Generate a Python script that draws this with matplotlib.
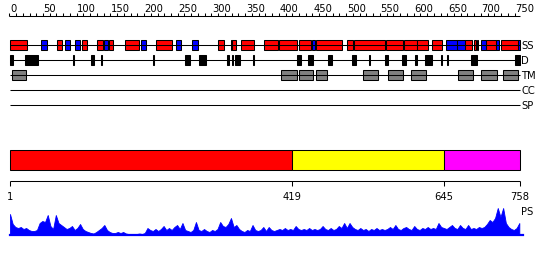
import numpy as np
import matplotlib.pyplot as plt
from matplotlib.patches import Rectangle

n_res = 758
ruler_ticks = list(range(0, 751, 10))
ruler_labels = list(range(0, 751, 50))

# secondary structure: helix (red), strand (blue)
ss_helix = [(1, 26), (71, 78), (108, 115), (130, 139), (148, 154), (172, 192),
            (218, 241), (310, 319), (329, 331), (331, 336), (344, 363), (378, 399),
            (400, 427), (430, 448), (455, 494), (501, 510), (512, 558), (559, 584),
            (586, 605), (605, 621), (627, 642), (677, 687), (690, 692), (694, 696),
            (708, 722), (730, 755)]
ss_strand = [(47, 56), (83, 90), (97, 105), (141, 146), (195, 203), (247, 255),
             (271, 280), (449, 454), (648, 664), (664, 677), (700, 708), (722, 727),
             (755, 758)]
disorder = [(1, 5), (23, 43), (94, 96), (121, 126), (136, 138), (213, 214),
            (261, 268), (282, 292), (323, 326), (330, 332), (335, 342), (362, 363),
            (427, 433), (443, 451), (473, 479), (509, 515), (534, 535), (558, 562),
            (583, 589), (602, 605), (617, 627), (640, 642), (649, 651), (686, 694),
            (750, 758)]
tm = [(4, 25), (403, 427), (430, 451), (455, 472), (525, 547), (562, 584),
      (596, 618), (666, 688), (700, 724), (733, 755)]

domain_bounds = [1, 419, 645, 758]
domain_colors = ['#ff0000', '#ffff00', '#ff00ff']
scale_ticks = [1, 419, 645, 758]

ps_res = np.arange(1, 758, 4)
ps_score = [21, 11, 8, 7, 8, 6, 7, 5, 4, 4,
            5, 12, 14, 13, 20, 9, 6, 20, 12, 10,
            8, 6, 7, 9, 5, 7, 11, 6, 4, 3,
            2, 1.5, 3, 5, 7, 10, 5, 3, 2, 2,
            3, 2, 3, 1.5, 1, 1, 1, 1, 1.5, 1,
            2, 7, 5, 4, 6, 4, 6, 9, 5, 7,
            5, 8, 10, 6, 12, 5, 4, 3, 5, 13,
            5, 4, 6, 4, 3, 5, 4, 6, 13, 9,
            8, 11, 17, 8, 10, 6, 4, 3, 5, 4,
            10, 5, 4, 5, 8, 4, 8, 5, 4, 5,
            6, 5, 7, 5, 6, 5, 9, 6, 5, 6,
            5, 7, 5, 6, 5, 6, 9, 6, 5, 7,
            5, 6, 9, 7, 12, 7, 12, 8, 6, 5,
            7, 5, 6, 4, 6, 5, 7, 5, 6, 5,
            6, 8, 6, 10, 6, 5, 7, 8, 6, 5,
            9, 6, 5, 7, 6, 8, 6, 7, 6, 12,
            8, 7, 6, 8, 10, 7, 6, 10, 7, 6,
            10, 6, 7, 6, 8, 7, 8, 11, 15, 13,
            17, 27, 18, 27, 12, 8, 6, 5, 7, 12]

W, H = 550, 260
x0, x1 = 10, 520  # pixel span of residues 1..n_res
k = (x1 - x0) / (n_res - 1)
xlim = (1 - x0 / k, 1 + (W - x0) / k)
fs = 7.2
lw = 0.75

fig = plt.figure(figsize=(W / 100, H / 100), dpi=100)
ax = fig.add_axes([0, 0, 1, 1])
ax.set_xlim(*xlim)
ax.set_ylim(H, 0)
ax.axis('off')

# ruler
ax.hlines(16, 0, n_res, color='black', lw=lw)
ax.vlines(ruler_ticks, 12.5, 16, color='black', lw=lw)
for t in ruler_labels:
    ax.text(t + 1, 11.5, str(t), fontsize=fs, ha='left', va='baseline')

rows = {'SS': 45, 'D': 60, 'TM': 75, 'CC': 90, 'SP': 105}
lab_x = n_res + 1.5
for name, y in rows.items():
    ax.hlines(y, 1, n_res, color='black', lw=lw)
    ax.text(lab_x, y + 4, name, fontsize=fs, ha='left', va='baseline')


def boxes(segs, y, color):
    for s, e in segs:
        ax.add_patch(Rectangle((s, y - 5), e - s, 10, facecolor=color,
                               edgecolor='black', lw=lw))


boxes(ss_helix, rows['SS'], '#ff0000')
boxes(ss_strand, rows['SS'], '#0000ff')
boxes(disorder, rows['D'], 'black')
boxes(tm, rows['TM'], '#808080')

# domain bar
for i in range(len(domain_colors)):
    s, e = domain_bounds[i], domain_bounds[i + 1]
    ax.add_patch(Rectangle((s, 150), e - s, 20, facecolor=domain_colors[i],
                           edgecolor='black', lw=lw))

ax.hlines(181, 1, n_res, color='black', lw=lw)
ax.vlines(scale_ticks, 181, 186, color='black', lw=lw)
for t in scale_ticks:
    ax.text(t, 199.5, str(t), fontsize=fs, ha='center', va='baseline')

ax.text(lab_x, 215, 'PS', fontsize=fs, ha='left', va='baseline')

# PS profile
base = 235
ax_ps = fig.add_axes([0, (H - base) / H, 1, 30 / H])
ax_ps.set_xlim(*xlim)
ax_ps.set_ylim(0, 30)
ax_ps.axis('off')
ax_ps.fill_between(ps_res, 0, ps_score, color='#0000ff', lw=0.6)
ax_ps.plot([1, n_res + 4], [0, 0], color='#0000ff', lw=1.6, clip_on=False)

fig.savefig('out.png', dpi=100)
